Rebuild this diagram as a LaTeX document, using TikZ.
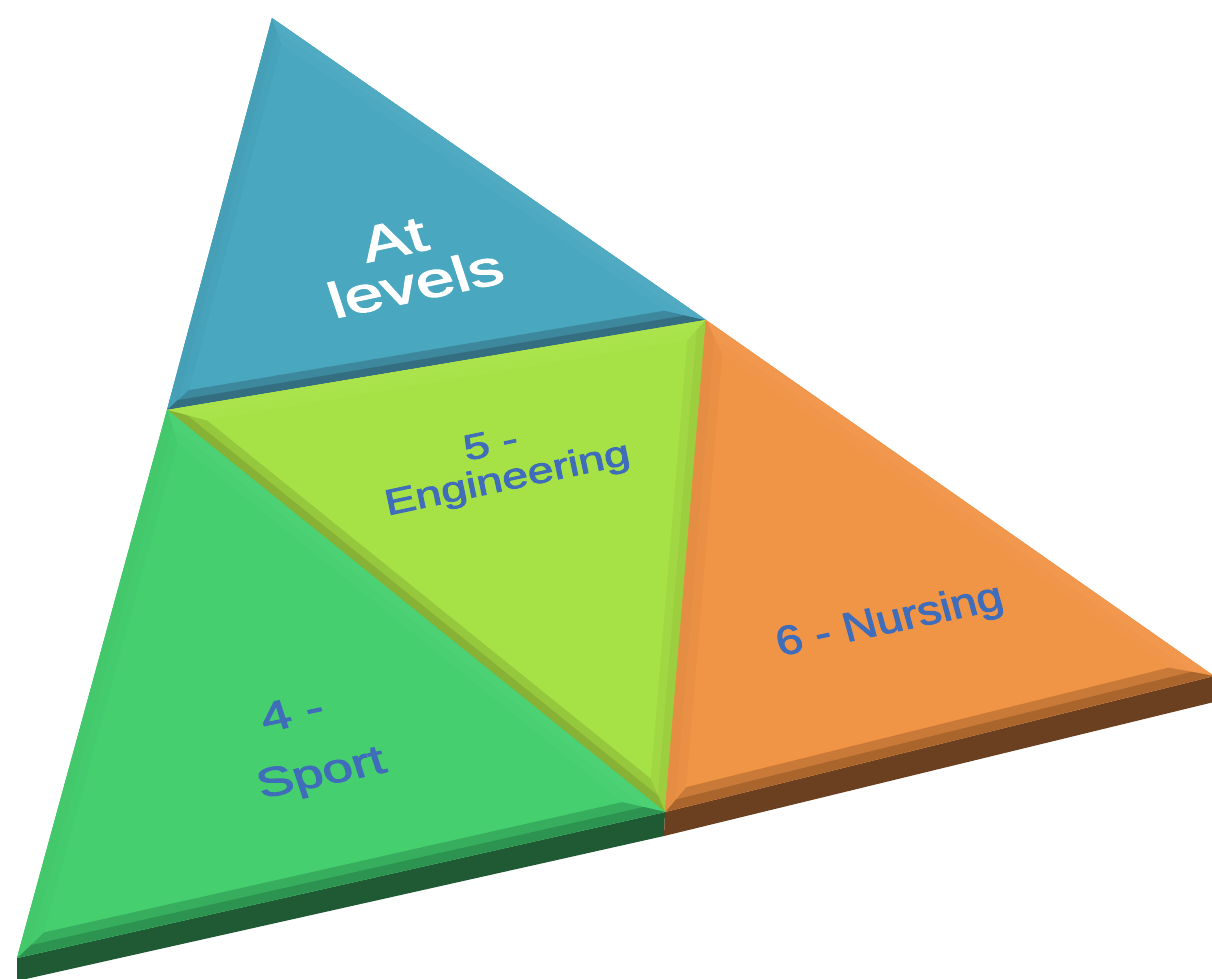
\documentclass[tikz,border=0pt]{standalone}
\usepackage{fontspec}
\setmainfont{Liberation Sans}
\newfontfamily\lblfont{Liberation Sans}[RawFeature={embolden=2.2}]
\usetikzlibrary{calc}
\definecolor{blueF}{HTML}{49A7C0}
\definecolor{limeF}{HTML}{A6E245}
\definecolor{greenF}{HTML}{45CF6F}
\definecolor{orangeF}{HTML}{F09446}
\definecolor{blueDk}{HTML}{336F80}
\definecolor{limeDk}{HTML}{88B235}
\definecolor{limeMd}{HTML}{9CCE3F}
\definecolor{greenDk}{HTML}{2C9350}
\definecolor{orangeDk}{HTML}{AA652D}
\definecolor{greenSide}{HTML}{1F5A34}
\definecolor{orangeSide}{HTML}{6A4020}
\definecolor{txtBlue}{HTML}{3F6DBA}
\newcommand{\bevedge}[5]{%
  \begin{scope}
    \clip (#1)--(#2)--(inc)--cycle;
    \draw[line width=2*#5, #3!55!#4] (#1)--(#2);
    \draw[line width=#5, #3] (#1)--(#2);
  \end{scope}}
\newcommand{\facet}[8]{%
  \path let \p1=(#1),\p2=(#2),\p3=(#3),
    \n1={veclen(\x2-\x3,\y2-\y3)},\n2={veclen(\x3-\x1,\y3-\y1)},
    \n3={veclen(\x1-\x2,\y1-\y2)},\n4={\n1+\n2+\n3}
    in coordinate (inc) at ({\n1/\n4*\x1+\n2/\n4*\x2+\n3/\n4*\x3},{\n1/\n4*\y1+\n2/\n4*\y2+\n3/\n4*\y3});
  \fill[#4] (#1)--(#2)--(#3)--cycle;
  \bevedge{#1}{#2}{#5}{#4}{#8}
  \bevedge{#2}{#3}{#6}{#4}{#8}
  \bevedge{#3}{#1}{#7}{#4}{#8}}
\tikzset{
  lblblue/.style={text=txtBlue, align=center, inner sep=0pt},
  lblwhite/.style={text=white, align=center, inner sep=0pt}
}
\begin{document}
\begin{tikzpicture}[x=1pt,y=1pt]
\useasboundingbox (0,0) rectangle (1212,-979);
\fill[white] (0,0) rectangle (1212,-979);
\coordinate (A) at (272,-18);
\coordinate (L) at (167,-410);
\coordinate (R) at (706,-320);
\coordinate (BL) at (17,-958);
\coordinate (BM) at (665,-812);
\coordinate (RC) at (1214,-676);
\coordinate (BLd) at (17,-981);
\coordinate (BMd) at (664,-836);
\coordinate (RCd) at (1214,-702);
% side faces
\fill[greenSide] (BL)--(BM)--(BMd)--(BLd)--cycle;
\fill[orangeSide] (BM)--(RC)--(RCd)--(BMd)--cycle;
% facets
\facet{A}{L}{R}{blueF}{blueF!95!black}{blueDk}{blueF!97!white}{16pt}
\facet{L}{R}{BM}{limeF}{limeF!96!white}{limeMd}{limeDk}{17pt}
\facet{L}{BM}{BL}{greenF}{greenF!96!white}{greenDk}{greenF!97!black}{19pt}
\facet{R}{RC}{BM}{orangeF}{orangeF!96!white}{orangeDk}{orangeF!95!black}{19pt}
% labels
\node[lblwhite, rotate=12, xscale=1.38, xslant=-0.08, font=\lblfont\fontsize{50}{48}\selectfont] (t1) at (408,-261) {\hspace*{-10pt}At\\levels};
\node[lblblue, rotate=12, xscale=1.3, font=\lblfont\fontsize{36}{37}\selectfont] (t2) at (504,-463) {\hspace*{-14pt}5 -\\Engineering};
\node[lblblue, rotate=12, xscale=1.32, xslant=-0.08, font=\lblfont\fontsize{41}{64}\selectfont] (t3) at (312,-745) {\hspace*{-14pt}4 -\\Sport};
\node[lblblue, rotate=12, xscale=1.15, xslant=-0.05, font=\lblfont\fontsize{41}{46}\selectfont] (t4) at (890,-622) {6 - Nursing};
\end{tikzpicture}
\end{document}
